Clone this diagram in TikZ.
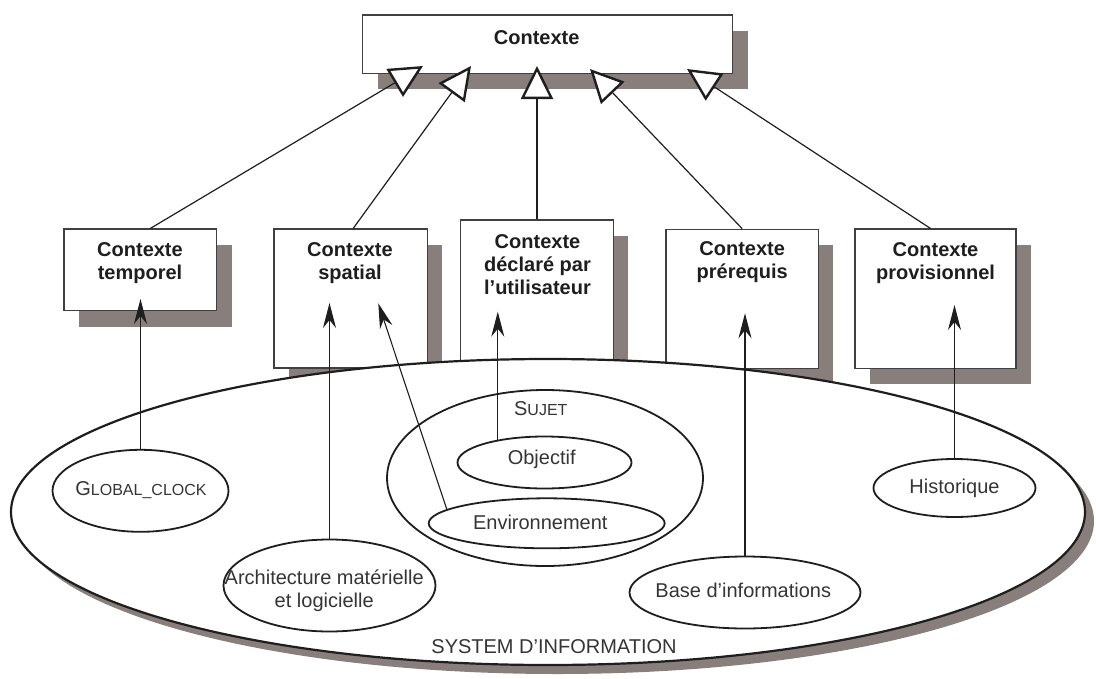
\documentclass[tikz,border=0pt]{standalone}
\usepackage{fontspec}
\setmainfont{Liberation Sans}
\usetikzlibrary{arrows.meta,shapes.geometric,shadows,calc}
\definecolor{shadowc}{RGB}{136,126,124}
\definecolor{ink}{RGB}{30,30,30}

\begin{document}
\begin{tikzpicture}[x=1pt,y=-1pt,
  box/.style={draw=ink!85, line width=1.2pt, fill=white, rectangle, inner sep=0pt,
    drop shadow={shadow xshift=15pt, shadow yshift=-16pt, fill=shadowc, opacity=1}},
  boxtxt/.style={font=\fontsize{20}{23.3}\selectfont\bfseries, text=ink, align=center, inner sep=0pt},
  oval/.style={draw=ink, line width=1.8pt, ellipse, inner sep=0pt, fill=white},
  ovtxt/.style={font=\fontsize{20}{23.3}\selectfont, text=ink!90, align=center, inner sep=0pt},
  isa/.style={draw=ink, line width=1.2pt,
    -{Triangle[length=33pt,width=32pt,fill=white,line width=2.4pt]}},
  dep/.style={draw=ink, line width=1.1pt, -{Stealth[length=25pt,width=13pt,inset=8pt]}},
]
\useasboundingbox (0,0) rectangle (1096,678);

% generic context (superclass)
\node[box, minimum width=370pt, minimum height=58.3pt] (ctx) at (547.7,44.2) {};
\node[boxtxt] (ctxlbl) at (536.7,37.5) {Contexte};

% specialised contexts
\node[box, minimum width=152.7pt, minimum height=81.7pt] (temporel) at (140.3,269.9) {};
\node[boxtxt] (temporellbl) at (140,263.3) {Contexte\\temporel};

\node[box, minimum width=153.3pt, minimum height=139pt] (spatial) at (350.7,298.5) {};
\node[boxtxt] (spatiallbl) at (350,263.3) {Contexte\\spatial};

\node[box, minimum width=152.6pt, minimum height=146pt] (declared) at (537,293) {};
\node[boxtxt] (declaredlbl) at (537.5,264.7) {Contexte\\déclaré par\\l’utilisateur};

\node[box, minimum width=152.3pt, minimum height=139pt] (prerequis) at (742.2,298.8) {};
\node[boxtxt] (prerequislbl) at (742.2,262) {Contexte\\prérequis};

\node[box, minimum width=161pt, minimum height=139.3pt] (provisionnel) at (935.5,298.7) {};
\node[boxtxt] (provisionnellbl) at (935.5,262.9) {Contexte\\provisionnel};

% inheritance links
\coordinate (h1) at (423,66);
\coordinate (h2) at (471,66);
\coordinate (h3) at (537,66);
\coordinate (h4) at (590,69);
\coordinate (h5) at (687,69);
\draw[isa] ([xshift=10pt]temporel.north) -- (h1);
\draw[isa] ([xshift=2.5pt]spatial.north) -- (h2);
\draw[isa] (declared.north) -- (h3);
\draw[isa] (prerequis.north) -- (h4);
\draw[isa] ([xshift=-5pt]provisionnel.north) -- (h5);

% information system
\node[draw=ink, line width=2.2pt, ellipse, fill=white, inner sep=0pt,
  minimum width=1074pt, minimum height=306pt,
  drop shadow={shadow xshift=9pt, shadow yshift=-9pt, fill=shadowc, opacity=1}]
  (si) at (548,512) {};
\node[ovtxt] (silbl) at (554,646.7) {SYSTEM D’INFORMATION};

\node[oval, minimum width=176pt, minimum height=82pt] (gclock) at (140.5,490.8) {};
\node[ovtxt] (gclocklbl) at (141,490.5) {G{\fontsize{16}{18}\selectfont LOBAL\_CLOCK}};

\node[oval, minimum width=212pt, minimum height=92pt] (arch) at (329.5,585.5) {};
\node[ovtxt] (archlbl) at (324.2,591) {Architecture matérielle\\et logicielle};

\node[oval, minimum width=316pt, minimum height=176pt] (sujet) at (545,478) {};
\node[ovtxt] (sujetlbl) at (540.8,408.3) {S{\fontsize{16}{18}\selectfont UJET}};

\node[oval, minimum width=174pt, minimum height=52pt] (obj) at (544.5,462.5) {};
\node[ovtxt] (objlbl) at (541.7,459.3) {Objectif};

\node[oval, minimum width=236pt, minimum height=50pt] (env) at (546.7,523.3) {};
\node[ovtxt] (envlbl) at (540.3,522.7) {Environnement};

\node[oval, minimum width=231pt, minimum height=72pt] (base) at (745,592.5) {};
\node[ovtxt] (baselbl) at (743.3,590.7) {Base d’informations};

\node[oval, minimum width=162pt, minimum height=58pt] (hist) at (954.5,488) {};
\node[ovtxt] (histlbl) at (954.5,488.3) {Historique};

% sources feeding each context
\coordinate (tT) at (140.5,299);
\coordinate (tSa) at (329.5,303);
\coordinate (tSb) at (378.3,303.3);
\coordinate (tD) at (498.3,311.7);
\coordinate (tP) at (745,313.3);
\coordinate (tV) at (954.5,305);
\draw[dep] (gclock.north) -- (gclock.north |- tT);
\draw[dep] (arch.north) -- (arch.north |- tSa);
\draw[dep] (env.172) -- (tSb);
\draw[dep] (obj.154.5) -- (obj.154.5 |- tD);
\draw[dep] (base.north) -- (base.north |- tP);
\draw[dep] (hist.north) -- (hist.north |- tV);
\end{tikzpicture}
\end{document}
